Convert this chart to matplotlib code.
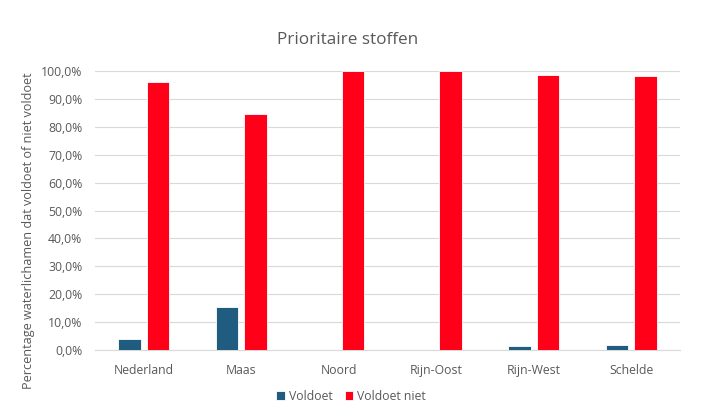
import matplotlib
matplotlib.use("Agg")
import matplotlib.pyplot as plt
import numpy as np
from matplotlib.ticker import FuncFormatter

categories = ["Nederland", "Maas", "Noord", "Rijn-Oost", "Rijn-West", "Schelde"]
voldoet = [3.9, 15.4, 0.0, 0.0, 1.4, 1.8]
voldoet_niet = [96.1, 84.6, 100.0, 100.0, 98.6, 98.2]

plt.rcParams['font.family'] = ['Open Sans', 'DejaVu Sans']
txt = '#595959'
W, H = 702, 416

fig = plt.figure(figsize=(W/100, H/100), dpi=100)
ax = fig.add_axes([95/W, (H-350)/H, 585/W, 279/H])

x = np.arange(len(categories))
w = 0.23
off = 0.145
ax.bar(x - off, voldoet, width=w, color='#1f5c80', edgecolor='white', linewidth=0.6, label='Voldoet', zorder=3)
ax.bar(x + off, voldoet_niet, width=w, color='#ff0018', edgecolor='white', linewidth=0.6, label='Voldoet niet', zorder=3)

ax.set_xlim(-0.5, len(categories) - 0.5)
ax.set_ylim(0, 100)
ax.set_yticks(np.arange(0, 101, 10))
ax.yaxis.set_major_formatter(FuncFormatter(lambda v, p: f"{v:.1f}%".replace('.', ',')))
ax.set_xticks(x)
ax.set_xticklabels(categories)
ax.tick_params(axis='both', length=0, colors=txt, labelsize=8.8)
ax.tick_params(axis='x', pad=10)
ax.tick_params(axis='y', pad=9)
ax.grid(axis='y', color='#d9d9d9', linewidth=0.8, zorder=0)
for s in ['top', 'right', 'left']:
    ax.spines[s].set_visible(False)
ax.spines['bottom'].set_color('#d9d9d9')

fig.text(29/W, 1 - 231/H, 'Percentage waterlichamen dat voldoet of niet voldoet', rotation=90,
         ha='center', va='center', color=txt, fontsize=9.1)
fig.text(348/W, 1 - 40/H, 'Prioritaire stoffen', ha='center', va='center', color=txt, fontsize=12.3)

fig.legend(loc='center', bbox_to_anchor=(351/W, 1 - 396/H), ncol=2, frameon=False,
           fontsize=8.8, labelcolor=txt, handlelength=0.7, handleheight=0.7, columnspacing=1.0, handletextpad=0.3)

fig.savefig('out.png', dpi=100)
